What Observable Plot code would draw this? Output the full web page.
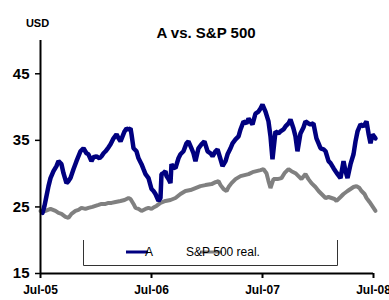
<!DOCTYPE html>
<html>
<head>
<meta charset="utf-8">
<script src="https://cdn.jsdelivr.net/npm/d3@7"></script>
<script src="https://cdn.jsdelivr.net/npm/@observablehq/plot@0.6"></script>
<style>
  html, body { margin: 0; padding: 0; background: #fff; }
</style>
</head>
<body>
<div id="chart"></div>
<script>
// Time in decimal years (2005.5 = Jul-05)
const aTimes = [2005.518,2005.536,2005.554,2005.572,2005.590,2005.617,2005.644,2005.662,2005.689,2005.707,2005.734,2005.752,2005.770,2005.797,2005.824,2005.860,2005.887,2005.914,2005.932,2005.959,2005.977,2006.005,2006.032,2006.050,2006.068,2006.086,2006.113,2006.131,2006.158,2006.185,2006.203,2006.221,2006.239,2006.257,2006.275,2006.293,2006.311,2006.320,2006.338,2006.365,2006.383,2006.410,2006.428,2006.446,2006.473,2006.500,2006.518,2006.536,2006.563,2006.581,2006.590,2006.608,2006.626,2006.635,2006.653,2006.671,2006.680,2006.698,2006.716,2006.743,2006.761,2006.788,2006.815,2006.833,2006.860,2006.878,2006.896,2006.923,2006.950,2006.977,2007.005,2007.032,2007.050,2007.077,2007.095,2007.122,2007.140,2007.167,2007.185,2007.212,2007.230,2007.257,2007.284,2007.302,2007.329,2007.356,2007.374,2007.392,2007.410,2007.437,2007.464,2007.482,2007.500,2007.527,2007.554,2007.572,2007.590,2007.617,2007.644,2007.662,2007.689,2007.707,2007.734,2007.752,2007.779,2007.797,2007.815,2007.842,2007.869,2007.887,2007.914,2007.932,2007.959,2007.986,2008.005,2008.023,2008.050,2008.068,2008.095,2008.113,2008.140,2008.158,2008.176,2008.203,2008.230,2008.248,2008.266,2008.293,2008.320,2008.338,2008.356,2008.383,2008.410,2008.437,2008.455,2008.473,2008.491,2008.518];
const aValues = [24.10,25.15,26.64,28.13,29.33,30.37,31.12,31.87,31.42,30.07,28.58,28.88,29.33,30.67,31.87,33.36,33.81,33.06,32.91,31.87,32.46,32.61,32.31,32.61,33.06,33.36,33.96,34.40,35.30,35.90,35.30,34.85,35.60,36.34,36.79,36.64,36.79,35.90,33.81,33.36,32.31,31.42,30.67,29.93,29.33,27.69,27.39,26.94,25.90,26.34,29.93,30.07,30.37,29.63,29.18,28.58,31.42,30.97,30.82,32.31,32.91,33.36,34.55,34.85,33.81,33.06,31.87,33.81,34.40,34.85,33.36,33.06,32.61,33.36,33.66,32.16,31.12,31.87,32.91,33.81,34.55,35.15,35.60,36.64,37.84,37.54,38.28,37.84,37.39,39.03,39.33,39.78,40.37,39.33,37.84,35.60,32.16,36.34,36.04,36.34,36.64,37.09,37.54,38.13,36.79,35.60,33.36,36.04,36.94,37.84,37.54,37.39,37.54,35.30,34.55,33.81,33.66,33.36,31.87,31.57,30.82,30.37,29.93,29.33,31.87,30.37,29.33,31.42,32.91,34.85,36.34,37.39,37.09,37.84,36.04,34.55,35.90,35.30];

const spTimes = [2005.500,2005.545,2005.590,2005.635,2005.662,2005.689,2005.725,2005.752,2005.779,2005.815,2005.842,2005.869,2005.905,2005.932,2005.968,2005.995,2006.023,2006.050,2006.086,2006.113,2006.140,2006.176,2006.221,2006.257,2006.293,2006.311,2006.338,2006.356,2006.383,2006.410,2006.446,2006.473,2006.500,2006.527,2006.545,2006.581,2006.626,2006.671,2006.716,2006.761,2006.806,2006.851,2006.896,2006.941,2006.986,2007.041,2007.077,2007.104,2007.122,2007.149,2007.176,2007.194,2007.221,2007.257,2007.302,2007.338,2007.374,2007.410,2007.446,2007.482,2007.509,2007.536,2007.554,2007.572,2007.599,2007.635,2007.671,2007.698,2007.734,2007.761,2007.797,2007.824,2007.851,2007.887,2007.914,2007.941,2007.977,2008.005,2008.032,2008.068,2008.095,2008.122,2008.149,2008.167,2008.203,2008.230,2008.266,2008.293,2008.320,2008.347,2008.374,2008.392,2008.419,2008.437,2008.464,2008.482,2008.500,2008.518];
const spValues = [24.40,24.40,24.70,24.40,24.10,23.96,23.51,23.36,23.96,24.40,24.55,24.85,24.70,24.85,25.00,25.15,25.30,25.45,25.45,25.60,25.60,25.75,25.90,26.04,26.34,26.19,25.45,24.85,24.70,24.40,24.70,24.85,24.70,25.00,25.15,25.60,25.90,26.04,26.34,26.94,27.39,27.54,27.84,28.13,28.28,28.43,28.73,28.88,28.28,27.69,27.39,27.99,28.58,29.18,29.63,29.78,29.93,30.22,30.37,30.52,30.67,30.07,28.88,27.84,29.18,29.18,29.33,30.07,30.67,30.37,30.07,29.63,29.18,29.93,29.18,28.58,27.99,27.39,26.94,26.34,26.49,26.34,26.19,25.90,26.49,26.94,27.39,27.69,27.99,28.13,27.84,27.39,26.94,26.34,25.75,25.30,24.85,24.40];

const seriesNames = ["A", "S&P 500 real."];
const seriesColors = ["#000080", "#808080"];
const xTickValues = [2005.5, 2006.5, 2007.5, 2008.5];
const xTickLabels = ["Jul-05", "Jul-06", "Jul-07", "Jul-08"];
const yTickValues = [15, 25, 35, 45];
const titleText = "A vs. S&P 500";
const unitText = "USD";

const aData = aTimes.map((t, i) => ({t, v: aValues[i]}));
const spData = spTimes.map((t, i) => ({t, v: spValues[i]}));

const chart = Plot.plot({
  width: 389,
  height: 300,
  marginLeft: 40,
  marginRight: 16,
  marginTop: 40,
  marginBottom: 27,
  style: {fontFamily: "Liberation Sans, Arial, sans-serif", background: "#fff", overflow: "visible"},
  x: {domain: [2005.5, 2008.5]},
  y: {domain: [15, 50]},
  marks: [
    Plot.line(spData, {x: "t", y: "v", stroke: seriesColors[1], strokeWidth: 4, strokeLinejoin: "miter"}),
    Plot.line(aData, {x: "t", y: "v", stroke: seriesColors[0], strokeWidth: 4.5, strokeLinejoin: "miter"}),
    Plot.ruleX([2005.5], {stroke: "#000", strokeWidth: 2}),
    Plot.ruleY([15], {stroke: "#000", strokeWidth: 2}),
    Plot.axisX({ticks: xTickValues, tickFormat: (d) => xTickLabels[xTickValues.indexOf(d)], tickSize: 5, tickPadding: 7, strokeWidth: 2, fontSize: 12, fontWeight: "bold", label: null, fill: "#000"}),
    Plot.axisY({ticks: yTickValues, tickSize: 5, tickPadding: 6, strokeWidth: 1.5, fontSize: 15, fontWeight: "bold", label: null, fill: "#000"}),
    Plot.text([titleText], {frameAnchor: "top", dx: -1, dy: -13, fontSize: 15, fontWeight: "bold", fill: "#000"}),
    Plot.text([unitText], {frameAnchor: "top-left", dx: -3, dy: -21, textAnchor: "middle", fontSize: 11, fontWeight: "bold", fill: "#000"})
  ]
});

// Legend overlay
const svg = d3.select(chart);
const lg = svg.append("g");
lg.append("path").attr("d", "M83.5,240 V265.5 H337.5 V240").attr("fill", "none").attr("stroke", "#333").attr("stroke-width", 1);
const items = [{x: 126}, {x: 200}];
items.forEach((it, i) => {
  lg.append("line").attr("x1", it.x).attr("x2", it.x + 22).attr("y1", 252).attr("y2", 252)
    .attr("stroke", seriesColors[i]).attr("stroke-width", 3);
  lg.append("text").attr("x", it.x + 23).attr("y", 252).attr("dy", "0.35em")
    .attr("font-size", 12).attr("fill", "#000").text(seriesNames[i]);
});

document.getElementById("chart").appendChild(chart);
</script>
</body>
</html>
